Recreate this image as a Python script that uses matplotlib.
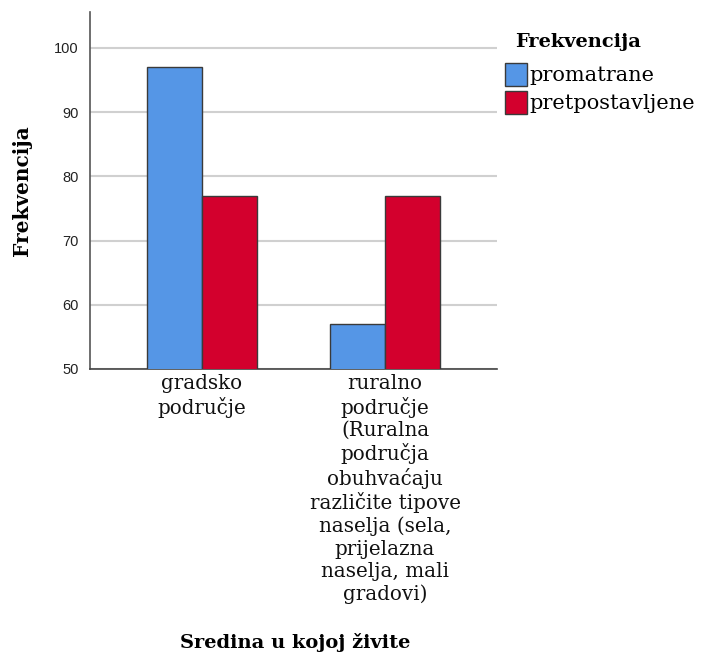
import matplotlib
matplotlib.use("Agg")
import matplotlib.pyplot as plt
import numpy as np
from matplotlib.patches import Patch

categories = ["gradsko\npodručje",
              "ruralno\npodručje\n(Ruralna\npodručja\nobuhvaćaju\nrazličite tipove\nnaselja (sela,\nprijelazna\nnaselja, mali\ngradovi)"]
series_names = ["promatrane", "pretpostavljene"]
legend_title = "Frekvencija"
promatrane = [97, 57]
pretpostavljene = [77, 77]
yticks = [50, 60, 70, 80, 90, 100]

blue = "#5596E6"
red = "#D3002D"
edge = "#3a3a3a"
serif = "DejaVu Serif"

fig = plt.figure(figsize=(7.02, 6.61), dpi=100)
ax = fig.add_axes([90/702, 1-369/661, (497-90)/702, (369-12)/661])

x = np.arange(len(categories))
w = 0.30
ax.bar(x - w/2, promatrane, width=w, color=blue, edgecolor=edge, linewidth=1.0, zorder=3)
ax.bar(x + w/2, pretpostavljene, width=w, color=red, edgecolor=edge, linewidth=1.0, zorder=3)

ax.set_ylim(50, 105.6)
ax.set_xlim(-0.612, 1.612)
ax.set_yticks(yticks)
ax.set_yticklabels([str(t) for t in yticks], fontfamily="Liberation Sans", fontsize=10.5, color="#222222")
ax.yaxis.grid(True, color="#d0d0d0", linewidth=1.5, zorder=0)
ax.set_axisbelow(True)
ax.tick_params(axis="y", length=0, pad=8)
ax.tick_params(axis="x", length=0)
ax.set_xticks(x)
ax.set_xticklabels([])
for xi, lab in zip(x, categories):
    xf = ax.transData.transform((xi, 0))[0] / fig.bbox.width
    fig.text(xf, 1-374/661, lab, ha="center", va="top", fontfamily=serif, fontsize=14.3,
             linespacing=1.21, color="#111111")
for s in ["top", "right"]:
    ax.spines[s].set_visible(False)
ax.spines["left"].set_color("#555555")
ax.spines["left"].set_linewidth(1.2)
ax.spines["bottom"].set_color("#444444")
ax.spines["bottom"].set_linewidth(1.2)

fig.text(22/702, 1-191/661, "Frekvencija", rotation=90, ha="center", va="center",
         fontfamily=serif, fontweight="bold", fontsize=14.5)
fig.text(295/702, 1-643/661, "Sredina u kojoj živite", ha="center", va="center",
         fontfamily=serif, fontweight="bold", fontsize=14)

fig.text(515/702, 1-42/661, legend_title, ha="left", va="center",
         fontfamily=serif, fontweight="bold", fontsize=14)
handles = [Patch(facecolor=blue, edgecolor=edge, label=series_names[0]),
           Patch(facecolor=red, edgecolor=edge, label=series_names[1])]
leg = fig.legend(handles=handles, loc="upper left", bbox_to_anchor=(505/702, 1-63/661),
                 frameon=False, prop={"family": serif, "size": 15},
                 handlelength=1.05, handleheight=1.3, handletextpad=0.12, labelspacing=0.25,
                 borderaxespad=0, borderpad=0)

fig.savefig("out.png", dpi=100)
